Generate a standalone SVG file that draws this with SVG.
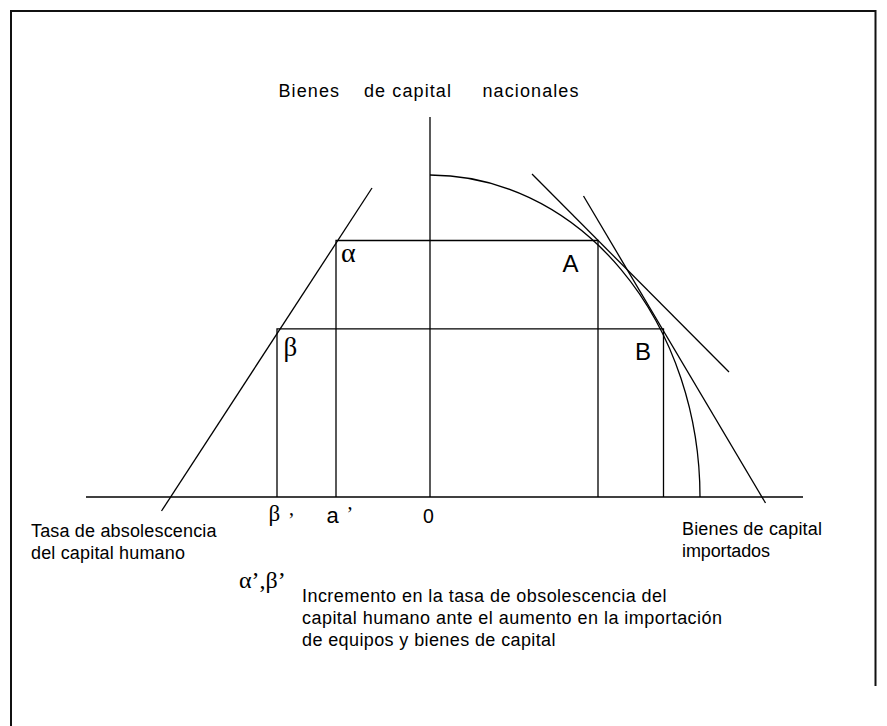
<svg xmlns="http://www.w3.org/2000/svg" width="887" height="726" viewBox="0 0 887 726">
<style>
.ln{stroke:#000;stroke-width:1.3;fill:none}
.fr{stroke:#111;stroke-width:2;fill:none}
.t{font-family:"Liberation Sans",Arial,sans-serif;fill:#000}
.g{font-family:"Liberation Serif","Times New Roman",serif;fill:#000}
</style>
<rect width="887" height="726" fill="#fff"/>
<path class="fr" d="M11,726 V11 H875.5 V686"/>
<g id="connectors">
<line class="ln" x1="86" y1="497" x2="803" y2="497"/>
<line class="ln" x1="430" y1="117" x2="430" y2="497"/>
<path class="ln" d="M430,175 A270,322 0 0 1 700,497"/>
<line class="ln" x1="532" y1="174" x2="729" y2="372"/>
<line class="ln" x1="583.5" y1="196" x2="765.5" y2="503"/>
<line class="ln" x1="372" y1="188" x2="161.5" y2="511"/>
<polyline class="ln" points="336,497 336,240.5 598,240.5 598,497"/>
<polyline class="ln" points="277,497 277,328.8 663.5,328.8 663.5,497"/>
</g>
<g id="title">
<text class="t" y="97" font-size="18" letter-spacing="1.1"><tspan x="278.5">Bienes </tspan><tspan x="364">de capital </tspan><tspan x="482.5">nacionales</tspan></text>
</g>
<g id="points">
<text class="g" x="341" y="262" font-size="28">α</text>
<text class="g" x="283.5" y="356" font-size="27">β</text>
<text class="t" x="562.5" y="272.3" font-size="24">A</text>
<text class="t" x="635" y="360" font-size="24">B</text>
</g>
<g id="axis-labels">
<text class="g" x="268.5" y="521" font-size="23">β<tspan x="288" y="527" font-size="20">’</tspan></text>
<text class="t" x="326.5" y="523" font-size="22">a<tspan class="g" x="346.5" y="521" font-size="20">’</tspan></text>
<text class="t" x="423" y="523.3" font-size="19.5">0</text>
</g>
<g id="label-left">
<text class="t" x="31" y="536.7" font-size="18" textLength="185.5">Tasa de absolescencia</text>
<text class="t" x="31" y="558.5" font-size="18" textLength="154">del capital humano</text>
</g>
<g id="label-right">
<text class="t" x="682" y="535" font-size="18" textLength="140">Bienes de capital</text>
<text class="t" x="682" y="557" font-size="18" textLength="88">importados</text>
</g>
<g id="legend">
<text class="g" x="239" y="588" font-size="24">α’,β’</text>
<text class="t" x="302" y="602" font-size="18" textLength="364.5">Incremento en la tasa de obsolescencia del</text>
<text class="t" x="302" y="624" font-size="18" textLength="420">capital humano ante el aumento en la importación</text>
<text class="t" x="302" y="646" font-size="18" textLength="253.5">de equipos y bienes de capital</text>
</g>
</svg>
